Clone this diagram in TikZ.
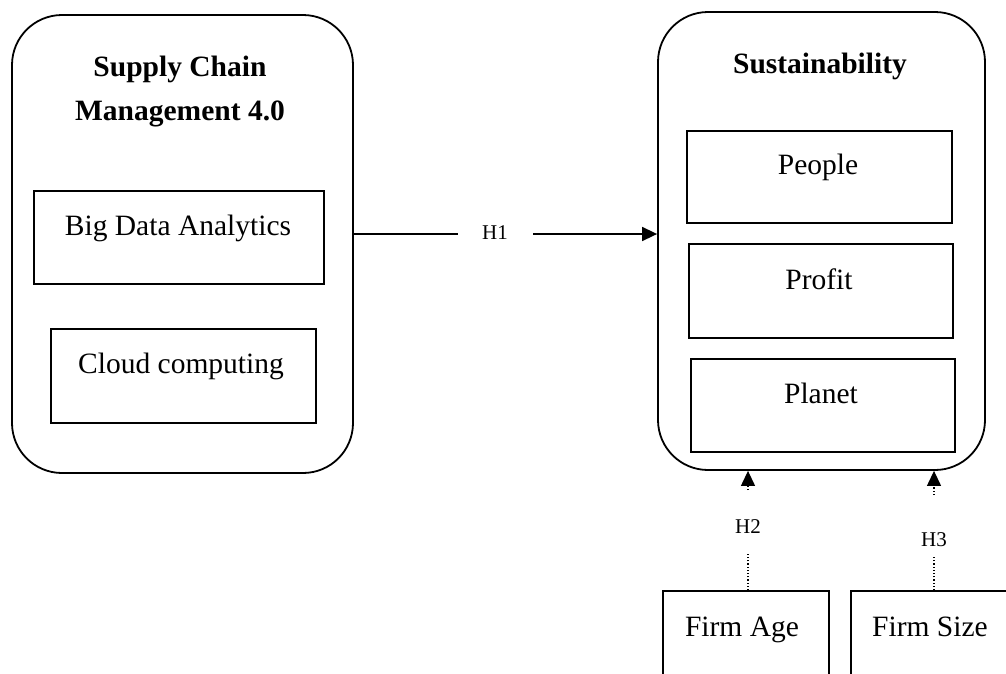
\documentclass[tikz,border=0pt]{standalone}
\usepackage{fontspec}
\setmainfont{Liberation Serif}
\usetikzlibrary{arrows.meta}
\begin{document}
\begin{tikzpicture}[x=1pt,y=-1pt,
  outerbox/.style={draw, line width=1.8pt, rounded corners=50pt, inner sep=0pt},
  itembox/.style={draw, line width=1.8pt, inner sep=0pt},
  lbl/.style={anchor=base, inner sep=0pt, font=\fontsize{29.5}{36}\selectfont},
  title/.style={anchor=base, inner sep=0pt, align=center, font=\fontsize{29.5}{44}\selectfont\bfseries},
  hlbl/.style={anchor=base, inner sep=0pt, font=\fontsize{21}{25}\selectfont},
  link/.style={line width=1.6pt},
  dotlink/.style={line width=1.2pt, dotted},
  tip/.style={-{Triangle[length=15pt,width=14pt]}}]
\useasboundingbox (0,0) rectangle (1006,673);
\clip (0,0) rectangle (1006,673);

% left group: Supply Chain Management 4.0
\node[outerbox, minimum width=341pt, minimum height=458pt] (scm) at (182.5,244) {};
\node[title] (scmt) at (180,120) {Supply Chain\\Management 4.0};
\node[itembox, minimum width=290pt, minimum height=93pt] (bda) at (179,237.5) {};
\node[lbl] (bdat) at (178,235) {Big Data Analytics};
\node[itembox, minimum width=265pt, minimum height=94pt] (cc) at (183.5,376) {};
\node[lbl] (cct) at (181,373) {Cloud computing};

% right group: Sustainability
\node[outerbox, minimum width=327pt, minimum height=458pt] (sus) at (821.5,241) {};
\node[title] (sust) at (820,73) {Sustainability};
\node[itembox, minimum width=265pt, minimum height=92pt] (ppl) at (819.5,177) {};
\node[lbl] (pplt) at (818,174) {People};
\node[itembox, minimum width=264pt, minimum height=94pt] (prf) at (821,291) {};
\node[lbl] (prft) at (819,289) {Profit};
\node[itembox, minimum width=264pt, minimum height=93pt] (pln) at (823,405.5) {};
\node[lbl] (plnt) at (821,403) {Planet};

% control variables
\node[itembox, minimum width=166pt, minimum height=129pt] (fa) at (746,655.5) {};
\node[lbl] (fat) at (742,636) {Firm Age};
\node[itembox, minimum width=209pt, minimum height=129pt] (fs) at (955.5,655.5) {};
\node[lbl] (fst) at (930,636) {Firm Size};

% H1
\node[hlbl] (h1) at (495,239) {H1};
\coordinate (h1a) at (458,234);
\coordinate (h1b) at (533,234);
\draw[link] (scm.east |- h1a) -- (h1a);
\draw[link, tip] (h1b) -- (h1b -| sus.west);

% H2
\node[hlbl] (h2) at (748,533) {H2};
\coordinate (h2top) at (748,490);
\coordinate (h2bot) at (748,552);
\draw[dotlink] (h2bot |- fa.north) -- (h2bot);
\draw[dotlink, tip] (h2top) -- (h2top |- sus.south);

% H3
\node[hlbl] (h3) at (934,546) {H3};
\coordinate (h3top) at (934,495);
\coordinate (h3bot) at (934,556);
\draw[dotlink] (h3bot |- fs.north) -- (h3bot);
\draw[dotlink, tip] (h3top) -- (h3top |- sus.south);
\end{tikzpicture}
\end{document}
